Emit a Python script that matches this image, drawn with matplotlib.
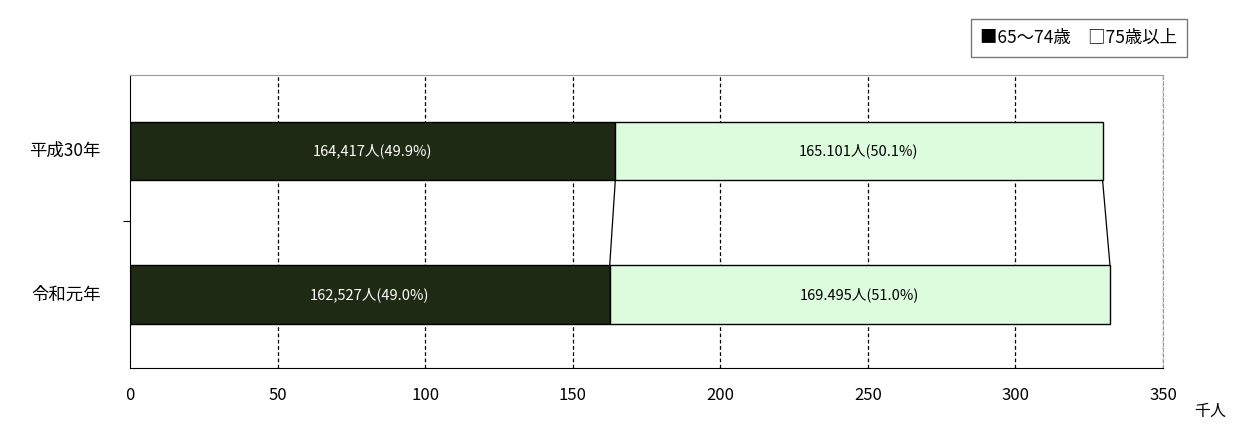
import matplotlib.pyplot as plt

plt.rcParams['font.family'] = ['Noto Sans CJK JP', 'DejaVu Sans']

years = ['令和元年', '平成30年']
young = [162.527, 164.417]   # 千人
old = [169.495, 165.101]
young_lbl = ['162,527人(49.0%)', '164,417人(49.9%)']
old_lbl = ['169.495人(51.0%)', '165.101人(50.1%)']
ypos = [0.5, 1.48]
h = 0.4

fig = plt.figure(figsize=(12.56, 4.25), dpi=100)
ax = fig.add_axes([0.1035, 0.134, 0.8225, 0.69])
ax.set_xlim(0, 350)
ax.set_ylim(0, 2)

for x in range(50, 351, 50):
    ax.axvline(x, color='black', ls=(0, (3, 2)), lw=0.9, zorder=0)

ax.barh(ypos, young, height=h, color='#1f2a14', edgecolor='black', lw=1)
ax.barh(ypos, old, left=young, height=h, color='#ddfcdd', edgecolor='black', lw=1)
for i in range(2):
    ax.text(young[i] / 2, ypos[i], young_lbl[i], color='white', ha='center', va='center', fontsize=10.5)
    ax.text(young[i] + old[i] / 2, ypos[i], old_lbl[i], color='black', ha='center', va='center', fontsize=10.5)

# connector lines between the bars
ax.plot([young[1], young[0]], [ypos[1] - h / 2, ypos[0] + h / 2], color='black', lw=0.9)
ax.plot([young[1] + old[1], young[0] + old[0]], [ypos[1] - h / 2, ypos[0] + h / 2], color='black', lw=0.9)

ax.set_yticks([1], [''])
ax.tick_params(axis='y', length=5)
ax.tick_params(axis='x', length=0, pad=14, labelsize=12)
for i in range(2):
    ax.text(-10, ypos[i], years[i], ha='right', va='center', fontsize=12.5)
ax.set_xticks(range(0, 351, 50))
ax.spines['top'].set_color('#999999')
ax.spines['right'].set_color('#999999')
ax.spines['right'].set_linestyle((0, (3, 2)))
fig.text(1210 / 1256, 1 - 420 / 425, '千人', fontsize=11.5, ha='center', va='bottom')

fig.text(1079 / 1256, 1 - 38 / 425, '■65～74歳　□75歳以上', fontsize=12.5, ha='center', va='center',
         bbox=dict(boxstyle='square,pad=0.55', fc='white', ec='#777777'))

fig.savefig('out.png')
